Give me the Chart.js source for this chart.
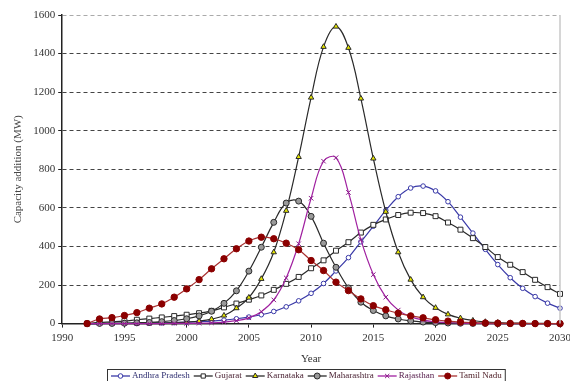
<!DOCTYPE html>
<html>
<head>
<meta charset="utf-8">
<script src="https://cdn.jsdelivr.net/npm/chart.js@4"></script>
<style>
html,body{margin:0;padding:0;background:#fff;overflow:hidden;}
#wrap{width:575px;height:381px;}
</style>
</head>
<body>
<div id="wrap"><canvas id="chart"></canvas></div>
<script>
// data
const years = [
    1992,1993,1994,1995,1996,1997,1998,1999,2000,2001,
    2002,2003,2004,2005,2006,2007,2008,2009,2010,2011,
    2012,2013,2014,2015,2016,2017,2018,2019,2020,2021,
    2022,2023,2024,2025,2026,2027,2028,2029,2030
];

const andhraPradesh = [
    0,0,1,1,2,3,4,5,7,10,
    13,18,25,34,46,63,87,118,157,208,
    273,342,424,505,587,658,703,713,688,632,
    552,469,385,306,238,183,140,106,80
];

const gujarat = [
    0,6,9,13,20,26,32,39,46,54,
    66,84,104,124,146,175,206,242,287,328,
    378,422,472,512,540,563,575,573,557,524,
    487,443,397,345,305,267,227,189,154
];

const karnataka = [
    0,0,1,1,2,2,3,5,8,13,
    23,42,80,135,232,370,585,864,1172,1435,
    1540,1430,1167,856,580,370,228,137,82,48,
    28,16,9,5,3,2,1,1,0
];

const maharashtra = [
    0,1,1,2,4,6,10,16,25,40,
    64,105,170,272,396,525,625,635,556,417,
    292,185,111,68,40,24,14,8,5,3,
    2,1,1,0,0,0,0,0,0
];

const rajasthan = [
    0,0,0,0,0,0,0,1,1,2,
    4,8,15,30,62,123,237,414,650,842,
    860,680,435,254,137,70,36,18,9,5,
    2,1,0,0,0,0,0,0,0
];

const tamilNadu = [
    0,24,31,42,57,80,102,137,180,228,
    284,336,388,428,448,440,417,383,327,275,
    215,171,128,93,72,54,40,30,20,13,
    8,5,3,2,1,1,0,0,0
];

const yTicks = [0,200,400,600,800,1000,1200,1400,1600];
const xTicks = [1990,1995,2000,2005,2010,2015,2020,2025,2030];

const serif = "'Liberation Serif', 'DejaVu Serif', serif";

function points(values){
    return years.map((y,i) => ({x:y, y:values[i]}));
}

const series = [
    {label:"Andhra Pradesh", data:andhraPradesh, line:"#3a3aa8", fill:"#ffffff", edge:"#3a3aa8", style:"circle", r:2.3, text:"#2e2e70"},
    {label:"Gujarat", data:gujarat, line:"#2a2a2a", fill:"#ffffff", edge:"#2a2a2a", style:"rect", r:3.5, text:"#4a2233"},
    {label:"Karnataka", data:karnataka, line:"#2a2a2a", fill:"#e6e600", edge:"#2a2a2a", style:"triangle", r:3.1, text:"#4a2233"},
    {label:"Maharashtra", data:maharashtra, line:"#2a2a2a", fill:"#9a9a9a", edge:"#2a2a2a", style:"circle", r:3, text:"#4a2233"},
    {label:"Rajasthan", data:rajasthan, line:"#a020a0", fill:"#a020a0", edge:"#8a1a8a", style:"crossRot", r:3.2, text:"#5a2250"},
    {label:"Tamil Nadu", data:tamilNadu, line:"#a83030", fill:"#8b0000", edge:"#8b0000", style:"circle", r:3.2, text:"#4a1a22"}
];

const datasets = series.map((s,i) => ({
    label: s.label,
    data: points(s.data),
    borderColor: s.line,
    borderWidth: 1.2,
    pointStyle: s.style,
    pointRadius: s.r,
    pointBorderWidth: 1,
    pointBackgroundColor: s.fill,
    pointBorderColor: s.edge,
    tension: 0.4,
    fill: false,
    clip: 6,
    order: i === 5 ? 0 : 6 - i,
    textColor: s.text
}));

// grey frame on the right, boxed legend under the axis title
const framePlugin = {
    id: "frame",
    afterDraw(chart){
        const g = chart.ctx;
        const a = chart.chartArea;
        g.save();
        g.strokeStyle = "#c8c8c8";
        g.lineWidth = 1.5;
        g.beginPath();
        g.moveTo(a.right, a.top);
        g.lineTo(a.right, a.bottom);
        g.stroke();

        // legend
        const iconW = 19, gapIcon = 2, gapItem = 4;
        const cy = 376;
        g.font = "9px " + serif;
        g.textBaseline = "middle";
        const dss = chart.data.datasets;
        let total = 0;
        dss.forEach(ds => {
            total += iconW + gapIcon + g.measureText(ds.label).width + gapItem;
        });
        total -= gapItem;
        let x = Math.round(306 - total / 2);

        g.strokeStyle = "#333";
        g.lineWidth = 1;
        g.strokeRect(x - 3.5, 369.5, total + 7, 16);

        dss.forEach(ds => {
            g.strokeStyle = ds.borderColor;
            g.lineWidth = 1.3;
            g.beginPath();
            g.moveTo(x, cy);
            g.lineTo(x + iconW, cy);
            g.stroke();
            g.fillStyle = ds.pointBackgroundColor;
            g.strokeStyle = ds.pointBorderColor;
            g.lineWidth = 1;
            Chart.helpers.drawPoint(g, {pointStyle:ds.pointStyle, radius:Math.min(ds.pointRadius, 3), borderWidth:1}, x + iconW / 2, cy);
            x += iconW + gapIcon;
            g.fillStyle = ds.textColor;
            g.fillText(ds.label, x, cy);
            x += g.measureText(ds.label).width + gapItem;
        });
        g.restore();
    }
};

new Chart(
    document.getElementById("chart"),
    {
        type:"line",
        data:{datasets:datasets},
        plugins:[framePlugin],
        options:{
            responsive:true,
            maintainAspectRatio:false,
            animation:false,
            layout:{padding:{left:12, right:3, top:15, bottom:12}},
            plugins:{
                tooltip:{enabled:false},
                legend:{display:false}
            },
            scales:{
                x:{
                    type:"linear",
                    min:1990,
                    max:2030,
                    afterBuildTicks(axis){
                        axis.ticks = xTicks.map(v => ({value:v}));
                    },
                    grid:{
                        display:true,
                        drawOnChartArea:false,
                        drawTicks:true,
                        tickLength:4,
                        color:"#222"
                    },
                    border:{display:true, color:"#222", width:1.5},
                    ticks:{
                        font:{family:serif, size:11},
                        color:"#333",
                        padding:4,
                        maxRotation:0,
                        callback:v => String(v)
                    },
                    title:{
                        display:true,
                        text:"Year",
                        font:{family:serif, size:11},
                        color:"#333",
                        padding:{top:4, bottom:3}
                    }
                },
                y:{
                    min:0,
                    max:1600,
                    afterBuildTicks(axis){
                        axis.ticks = yTicks.map(v => ({value:v}));
                    },
                    grid:{
                        color:ctx => {
                            if(ctx.tick && ctx.tick.value === 1600) return "#aaaaaa";
                            if(ctx.tick && ctx.tick.value === 0) return "rgba(0,0,0,0)";
                            return "#444";
                        },
                        tickColor:"#222",
                        tickLength:4,
                        lineWidth:1
                    },
                    border:{display:true, color:"#222", width:1.5, dash:[4,3]},
                    ticks:{
                        font:{family:serif, size:11},
                        color:"#333",
                        padding:3,
                        callback:v => String(v)
                    },
                    title:{
                        display:true,
                        text:"Capacity addition (MW)",
                        font:{family:serif, size:11},
                        color:"#444",
                        padding:{top:0, bottom:5}
                    }
                }
            }
        }
    }
);
</script>
</body>
</html>
